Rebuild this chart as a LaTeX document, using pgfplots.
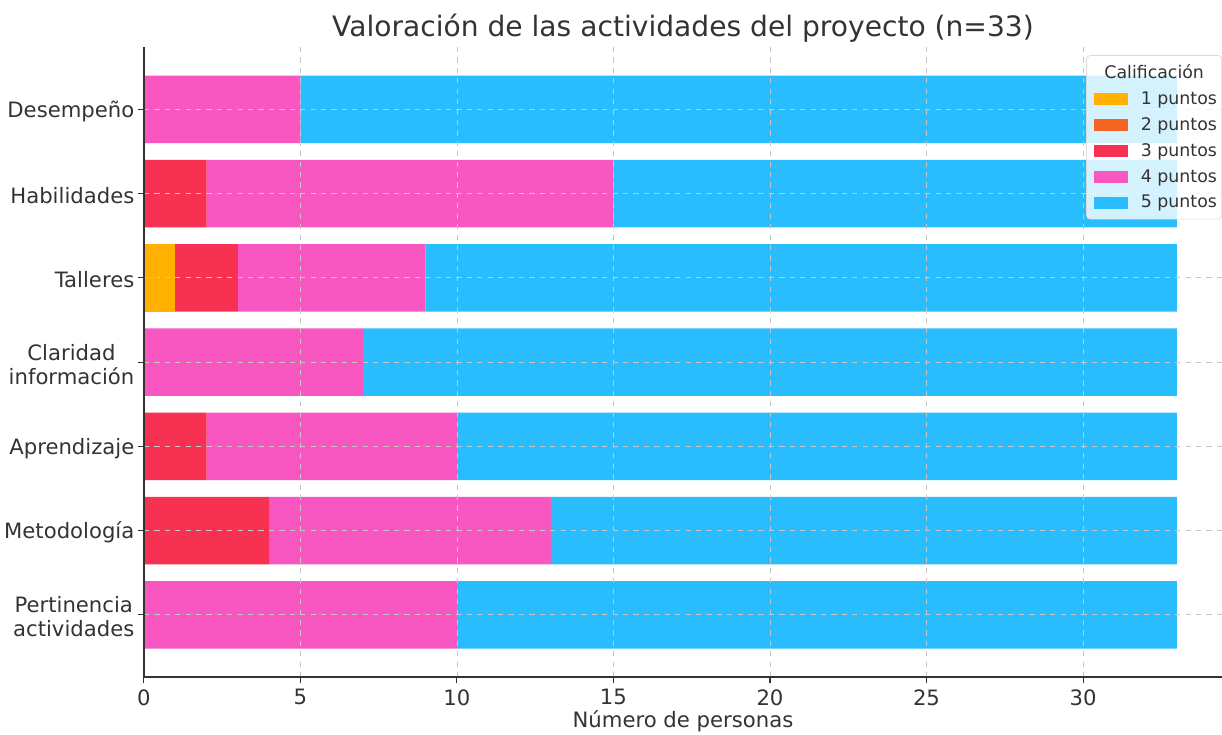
\documentclass[border=0pt]{standalone}
\usepackage{fontspec}
\setmainfont{DejaVu Sans}
\usepackage{pgfplots}
\pgfplotsset{compat=1.18}
\usepackage{pgfplotstable}

\definecolor{c1}{HTML}{FFB000}
\definecolor{c2}{HTML}{F46524}
\definecolor{c3}{HTML}{F73152}
\definecolor{c4}{HTML}{F857C1}
\definecolor{c5}{HTML}{29BDFD}
\definecolor{txt}{HTML}{333333}

\pgfplotstableread{
y p1 p2 p3 p4 p5
0 0 0 0 10 23
1 0 0 4 9 20
2 0 0 2 8 23
3 0 0 0 7 26
4 1 0 2 6 24
5 0 0 2 13 18
6 0 0 0 5 28
}\data

\begin{document}
\begin{tikzpicture}
\begin{axis}[
  scale only axis, width=621pt, height=363pt,
  xbar stacked, bar width=0.8,
  xmin=0, xmax=34.44, ymin=-0.74, ymax=6.74,
  axis x line*=bottom, axis y line*=left,
  axis line style={txt, line width=0.9pt, -},
  ytick={0,...,6},
  yticklabels={{Pertinencia\\actividades},{Metodología},{Aprendizaje},{Claridad\\información},{Talleres},{Habilidades},{Desempeño}},
  yticklabel style={align=center, font=\fontsize{12.2}{13.8}\selectfont, text=txt, xshift=1.5pt, yshift=-1.2pt},
  xtick={0,5,...,30},
  xticklabel style={font=\fontsize{12.2}{13.8}\selectfont, text=txt},
  /pgf/number format/assume math mode=true,
  grid=major, major grid style={dashed, gray!45, line width=0.5pt},
  tick align=outside, major tick length=3.5pt, tick style={txt, line width=0.6pt},
  title={Valoración de las actividades del proyecto (n=33)},
  title style={font=\fontsize{16.2}{18}\selectfont, text=txt, at={(0.5,1)}, anchor=base, yshift=0pt},
  xlabel={Número de personas},
  xlabel style={font=\fontsize{12.2}{13.8}\selectfont, text=txt, at={(0.5,0)}, anchor=center, yshift=-25.6pt},
  axis on top,
  legend image code/.code={\path (-3.3pt,0pt) (25.3pt,0pt); \fill[#1, sharp corners, fill opacity=1] (0pt,-3.6pt) rectangle (20pt,3.6pt);},
  legend style={at={(1,0.987)}, anchor=north east, font=\fontsize{10}{11}\selectfont, text=txt,
    draw=gray!30, rounded corners=2pt, fill=white, fill opacity=0.8, text opacity=1,
    row sep=2.1pt, inner xsep=0.7pt, inner ysep=3pt},
  legend cell align=left,
]
\addlegendimage{empty legend}
\addlegendentry{\hspace{-21pt}Calificación}
\addplot[fill=c1, draw=none] table[x=p1, y=y] {\data};
\addlegendentry{1 puntos}
\addplot[fill=c2, draw=none] table[x=p2, y=y] {\data};
\addlegendentry{2 puntos}
\addplot[fill=c3, draw=none] table[x=p3, y=y] {\data};
\addlegendentry{3 puntos}
\addplot[fill=c4, draw=none] table[x=p4, y=y] {\data};
\addlegendentry{4 puntos}
\addplot[fill=c5, draw=none] table[x=p5, y=y] {\data};
\addlegendentry{5 puntos}
\coordinate (SW) at (rel axis cs:0,0);
\coordinate (NE) at (rel axis cs:1,1);
\end{axis}
\pgfresetboundingbox
\path[use as bounding box] ([shift={(-82.9pt,-32.8pt)}]SW) rectangle ([shift={(0pt,27.1pt)}]NE);
\end{tikzpicture}
\end{document}
